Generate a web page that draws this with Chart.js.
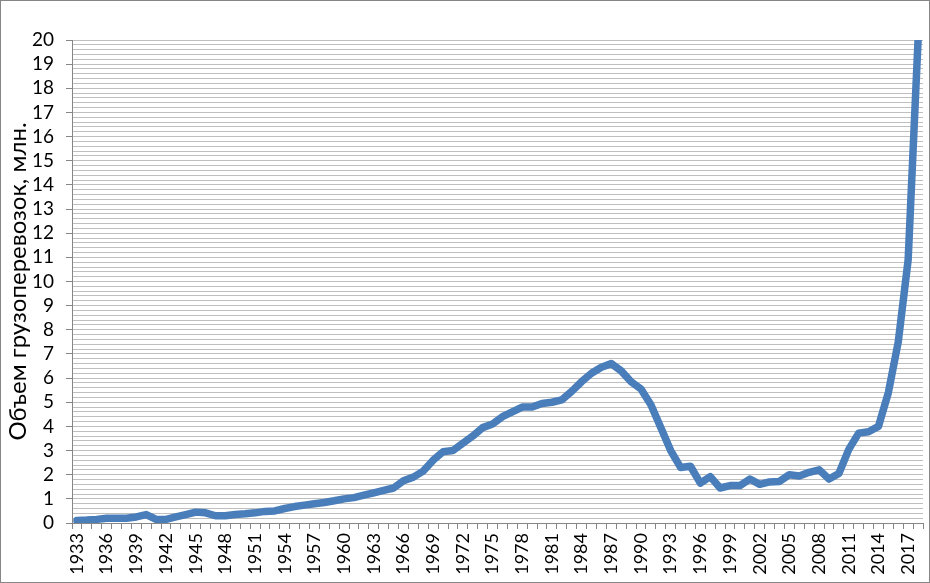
<!DOCTYPE html>
<html>
<head>
<meta charset="utf-8">
<script src="https://cdn.jsdelivr.net/npm/chart.js@4"></script>
<style>
  html, body { margin: 0; padding: 0; background: #fff; }
  #wrap { width: 928px; height: 581px; border: 1px solid #868686; position: relative; }
</style>
</head>
<body>
<div id="wrap"><canvas id="chart" width="928" height="581"></canvas></div>
<script>
// Годы (категории)
const years = [];
for (let y = 1933; y <= 2018; y++) years.push(String(y));

// Объем грузоперевозок, млн.
const volumes = [
  0.10, 0.12, 0.15, 0.20, 0.20, 0.20, 0.25, 0.35, 0.15, 0.15,   // 1933-1942
  0.25, 0.35, 0.45, 0.42, 0.30, 0.30, 0.35, 0.38, 0.42, 0.48,   // 1943-1952
  0.50, 0.60, 0.68, 0.74, 0.80, 0.85, 0.92, 1.00, 1.05, 1.15,   // 1953-1962
  1.25, 1.35, 1.45, 1.75, 1.90, 2.15, 2.60, 2.95, 3.00, 3.30,   // 1963-1972
  3.60, 3.95, 4.10, 4.40, 4.60, 4.80, 4.80, 4.95, 5.00, 5.10,   // 1973-1982
  5.45, 5.85, 6.20, 6.45, 6.60, 6.30, 5.85, 5.55, 4.90, 3.95,   // 1983-1992
  3.00, 2.30, 2.35, 1.65, 1.92, 1.45, 1.55, 1.55, 1.82, 1.60,   // 1993-2002
  1.70, 1.72, 2.00, 1.95, 2.10, 2.20, 1.82, 2.05, 3.05, 3.72,   // 2003-2012
  3.78, 4.00, 5.40, 7.50, 10.90, 20.00                           // 2013-2018
];

const yTitle = 'Объем грузоперевозок, млн.';
const labelEvery = 3;

const isInt = v => Math.abs(v - Math.round(v)) < 1e-6;

new Chart(document.getElementById('chart').getContext('2d'), {
  type: 'line',
  data: {
    labels: years,
    datasets: [{
      data: volumes,
      borderColor: '#4A7EBB',
      borderWidth: 7.5,
      pointRadius: 0,
      tension: 0,
      borderJoinStyle: 'round',
      borderCapStyle: 'round'
    }]
  },
  options: {
    responsive: false,
    animation: false,
    layout: { padding: { top: 39, right: 6, left: 0, bottom: 0 } },
    plugins: {
      legend: { display: false },
      tooltip: { enabled: false }
    },
    scales: {
      x: {
        type: 'category',
        offset: true,
        grid: {
          offset: true,
          drawOnChartArea: false,
          tickLength: 6,
          color: '#868686'
        },
        border: { color: '#868686', width: 1 },
        ticks: {
          autoSkip: false,
          maxRotation: 90,
          minRotation: 90,
          padding: 4,
          color: '#000',
          font: { family: 'Lato', size: 18 },
          callback: function (val, idx) {
            return idx % labelEvery === 0 ? this.getLabelForValue(val) : '';
          }
        },
        afterFit: s => {
          s.height = 59;
          // не резервировать место под крайние подписи
          s.paddingLeft = 0;
          s.paddingRight = 0;
        }
      },
      y: {
        min: 0,
        max: 20,
        grid: {
          color: '#BFBFBF',
          tickLength: 6,
          tickColor: ctx => isInt(ctx.tick.value) ? '#868686' : 'rgba(0,0,0,0)'
        },
        border: { color: '#868686', width: 1 },
        ticks: {
          stepSize: 0.2,
          autoSkip: false,
          padding: 12,
          color: '#000',
          font: { family: 'Lato', size: 19 },
          callback: v => isInt(v) ? String(Math.round(v)) : ''
        },
        title: {
          display: true,
          text: yTitle,
          color: '#000',
          font: { family: 'Lato', size: 24 },
          padding: { top: 3, bottom: 0 }
        },
        afterFit: s => { s.width = 71; }
      }
    }
  }
});
</script>
</body>
</html>
